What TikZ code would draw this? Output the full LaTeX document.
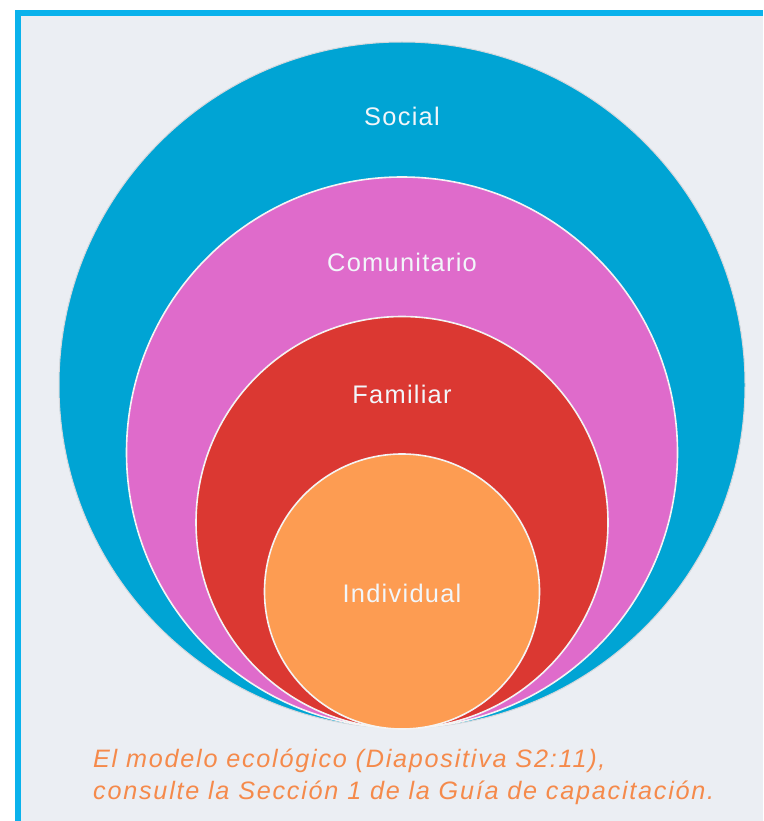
\documentclass[tikz,border=0pt]{standalone}
\usepackage{fontspec}
\setmainfont{Liberation Sans}
\newfontfamily\labelfont[LetterSpace=5]{Liberation Sans}
\newfontfamily\capfont[LetterSpace=7]{Liberation Sans}
\definecolor{frameblue}{HTML}{0AB2EC}
\definecolor{bgpanel}{HTML}{EBEEF3}
\definecolor{socialblue}{HTML}{00A4D4}
\definecolor{comupink}{HTML}{DF6BCB}
\definecolor{famred}{HTML}{DB3832}
\definecolor{indorange}{HTML}{FD9C52}
\definecolor{caporange}{HTML}{F58A4B}
\definecolor{ringline}{HTML}{F4F4F4}
\definecolor{labeltext}{HTML}{F2F6FA}
\tikzset{
  ring/.style={draw=ringline, line width=1.6pt},
  layerlabel/.style={text=labeltext, font=\labelfont\fontsize{25.4}{29}\selectfont, inner sep=0pt},
  captext/.style={text=caporange, font=\capfont\itshape\fontsize{25.2}{29}\selectfont, inner sep=0pt, anchor=base west}
}
\begin{document}
\begin{tikzpicture}[x=1pt,y=-1pt]
\useasboundingbox (0,0) rectangle (763,821);
\fill[white] (0,0) rectangle (763,821);
\fill[bgpanel] (18,13) rectangle (763,821);
\draw[frameblue, line width=6pt, line join=miter] (18,821) -- (18,13) -- (763,13);
% nested circles, tangent at bottom
\draw[ring, draw=bgpanel!80!gray, line width=1pt, fill=socialblue] (402,385) circle[radius=343];
\draw[ring, fill=comupink] (402,452.5) circle[radius=275.5];
\draw[ring, fill=famred] (402,522.5) circle[radius=206];
\draw[ring, fill=indorange] (402,591.5) circle[radius=137.5];
% labels
\node[layerlabel] (social) at (402,116) {Social};
\node[layerlabel] (comunitario) at (402,262) {Comunitario};
\node[layerlabel] (familiar) at (402,394) {Familiar};
\node[layerlabel] (individual) at (402,593) {Individual};
% caption
\node[captext] (cap1) at (93,767) {El modelo ecológico (Diapositiva S2:11),};
\node[captext] (cap2) at (93,799) {consulte la Sección 1 de la Guía de capacitación.};
\end{tikzpicture}
\end{document}
